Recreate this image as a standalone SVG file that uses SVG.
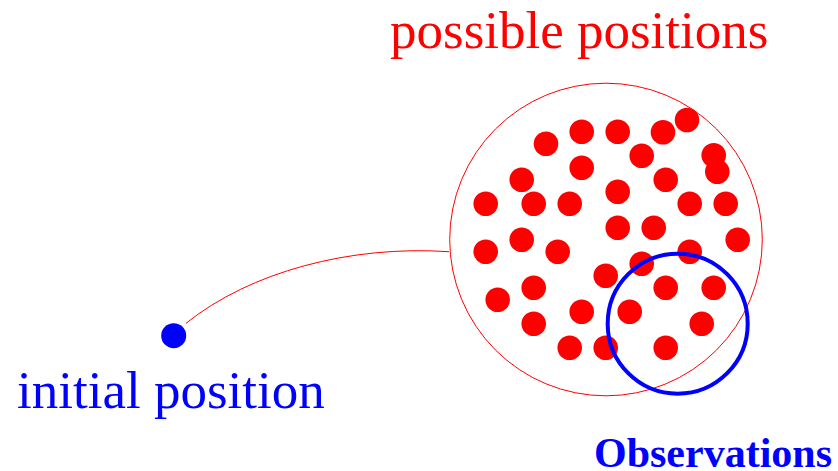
<svg xmlns="http://www.w3.org/2000/svg" width="838" height="471" viewBox="0 0 838 471">
<style>
.lbl{font-family:"Liberation Serif","Times New Roman",serif}
.dot{fill:#ff0000}
</style>
<rect width="838" height="471" fill="#ffffff"/>
<g id="connectors">
<path d="M186,323.3 C250,272 350,245 449,251.7" fill="none" stroke="#ff0000" stroke-width="1"/>
</g>
<g id="possible-positions">
<circle cx="606" cy="239.5" r="156.3" fill="none" stroke="#ff0000" stroke-width="1"/>
<g class="dot">
<circle cx="546" cy="143.7" r="12.3"/>
<circle cx="581.7" cy="131.7" r="12.3"/>
<circle cx="617.7" cy="131.7" r="12.3"/>
<circle cx="663" cy="132.3" r="12.3"/>
<circle cx="687" cy="120" r="12.3"/>
<circle cx="641.7" cy="155.7" r="12.3"/>
<circle cx="713.7" cy="155.3" r="12.3"/>
<circle cx="717.3" cy="171.7" r="12.3"/>
<circle cx="581.7" cy="167.7" r="12.3"/>
<circle cx="521.7" cy="179.7" r="12.3"/>
<circle cx="665.7" cy="179.7" r="12.3"/>
<circle cx="617.7" cy="191.7" r="12.3"/>
<circle cx="485.7" cy="203.7" r="12.3"/>
<circle cx="533.7" cy="203.7" r="12.3"/>
<circle cx="569.7" cy="203.7" r="12.3"/>
<circle cx="689.7" cy="203.7" r="12.3"/>
<circle cx="725.7" cy="203.7" r="12.3"/>
<circle cx="617.7" cy="227.7" r="12.3"/>
<circle cx="653.7" cy="227.7" r="12.3"/>
<circle cx="521.7" cy="239.7" r="12.3"/>
<circle cx="737.7" cy="239.7" r="12.3"/>
<circle cx="485.7" cy="251.7" r="12.3"/>
<circle cx="557.7" cy="251.7" r="12.3"/>
<circle cx="689.7" cy="251.7" r="12.3"/>
<circle cx="641.7" cy="263.7" r="12.3"/>
<circle cx="605.7" cy="275.7" r="12.3"/>
<circle cx="533.7" cy="287.7" r="12.3"/>
<circle cx="665.7" cy="287.7" r="12.3"/>
<circle cx="713.7" cy="287.7" r="12.3"/>
<circle cx="497.7" cy="299.7" r="12.3"/>
<circle cx="581.7" cy="311.7" r="12.3"/>
<circle cx="629.7" cy="311.7" r="12.3"/>
<circle cx="533.7" cy="323.7" r="12.3"/>
<circle cx="701.7" cy="323.7" r="12.3"/>
<circle cx="569.7" cy="347.7" r="12.3"/>
<circle cx="605.7" cy="347.7" r="12.3"/>
<circle cx="665.7" cy="347.7" r="12.3"/>
</g>
<text class="lbl" x="390" y="48.3" font-size="53" fill="#ff0000">possible positions</text>
</g>
<g id="observations">
<circle cx="677.7" cy="323.7" r="70" fill="none" stroke="#0000ff" stroke-width="4"/>
<text class="lbl" x="594" y="467" font-size="42" font-weight="bold" fill="#0000ff">Observations</text>
</g>
<g id="initial-position">
<circle cx="173.7" cy="335.7" r="12.5" fill="#0000ff"/>
<text class="lbl" x="17" y="407.7" font-size="53" fill="#0000ff">initial position</text>
</g>
</svg>
